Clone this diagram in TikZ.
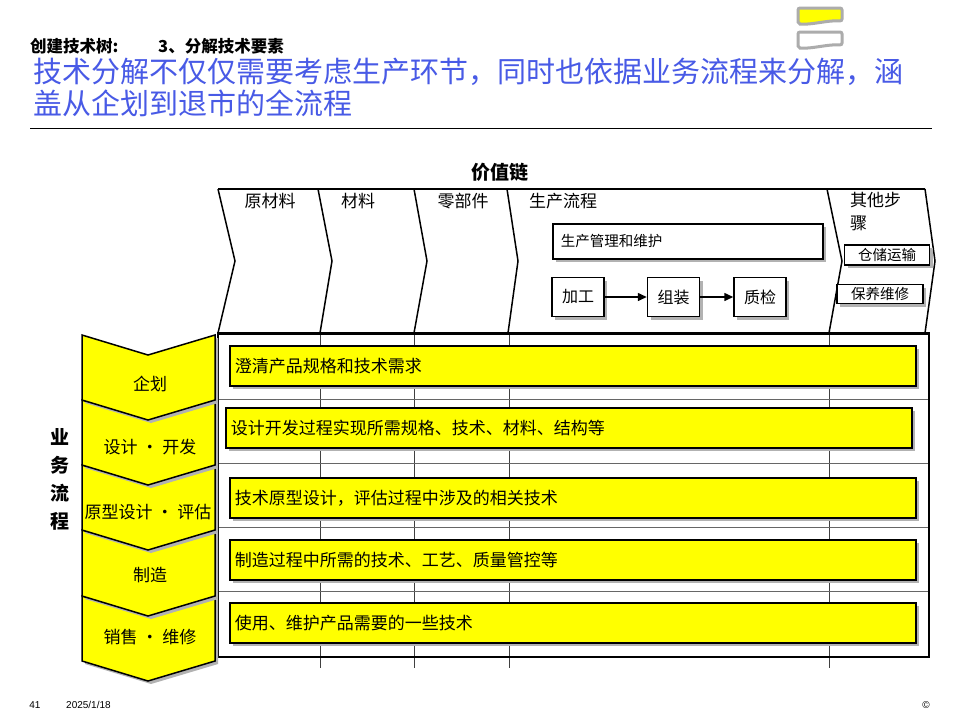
\documentclass[tikz,border=0pt]{standalone}
\usepackage{fontspec}
\setmainfont{Liberation Sans}
\newfontfamily\cjk{Noto Sans CJK SC}
\usepackage{xcolor}
\usetikzlibrary{arrows.meta,positioning,shadows}
\definecolor{titleblue}{RGB}{72,90,230}
\definecolor{markyellow}{RGB}{255,255,0}

\begin{document}
\begin{tikzpicture}[x=1pt, y=-1pt,
  cjktxt/.style={font=\cjk\fontsize{17}{20}\selectfont, inner sep=0pt},
  shade/.style={drop shadow={shadow xshift=3pt, shadow yshift=-3pt, fill=gray!60, opacity=1}},
  bar/.style={draw, line width=1.6pt, fill=markyellow, shade, anchor=north west, minimum height=40pt,
    text width=676pt, inner xsep=5pt, inner ysep=0pt, align=left, font=\cjk\fontsize{17}{20}\selectfont},
  pbox/.style={draw, line width=1.5pt, fill=white, shade, inner sep=0pt, font=\cjk\fontsize{16}{19}\selectfont},
  sbox/.style={draw, line width=1.5pt, fill=white, shade, inner sep=0pt, font=\cjk\fontsize{14.5}{17}\selectfont},
  chev/.style={draw, line width=1.5pt, fill=markyellow, line join=miter, shade},
  vchain/.style={line width=1.5pt, line join=miter},
  rowline/.style={gray!80!black, line width=1pt},
  colline/.style={black!75, line width=0.8pt},
  icon/.style={draw=gray!65, line width=3pt, rounded corners=2pt},
  arr/.style={-{Triangle[length=9pt, width=8pt]}, line width=1.5pt},
  foot/.style={font=\fontsize{10}{12}\selectfont, inner sep=0pt}
]
  \fill[white] (0,0) rectangle (960,720);
  \useasboundingbox (0,0) rectangle (960,720);

  \draw[icon, fill=markyellow] (798,8) -- (842,8) -- (842,21) .. controls (828,20) and (812,25) .. (798,24) -- cycle;
  \draw[icon, fill=white] (798,32) -- (842,32) -- (842,45) .. controls (828,44) and (812,49) .. (798,48) -- cycle;

  \node[cjktxt, anchor=west, font=\cjk\bfseries\fontsize{16.5}{19}\selectfont] (crumb) at (30,46) {创建技术树:};
  \node[cjktxt, anchor=west, font=\cjk\bfseries\fontsize{16.5}{19}\selectfont] (step) at (158,46) {3、分解技术要素};
  \node[cjktxt, anchor=north west, align=left, text=titleblue, font=\cjk\fontsize{29}{32}\selectfont] (title) at (33,58)
    {技术分解不仅仅需要考虑生产环节，同时也依据业务流程来分解，涵\\盖从企划到退市的全流程};
  \draw[line width=1pt] (30,128) -- (932,128);

  \node[cjktxt, font=\cjk\bfseries\fontsize{19}{22}\selectfont] (chain) at (500,172) {价值链};

  \draw[vchain] (218,189) -- (925,189);
  \draw[vchain] (218,189) -- (235,261) -- (218,333);
  \draw[vchain] (318,189) -- (332,261) -- (320,333);
  \draw[vchain] (414,189) -- (427,261) -- (414,333);
  \draw[vchain] (507,189) -- (518,261) -- (508,333);
  \draw[vchain] (827,189) -- (842,261) -- (829,333);
  \draw[vchain] (925,189) -- (935,261) -- (925,333);

  \node[cjktxt] (raw) at (270,201) {原材料};
  \node[cjktxt] (mat) at (358,201) {材料};
  \node[cjktxt] (part) at (463,201) {零部件};
  \node[cjktxt, anchor=west] (prod) at (529,201) {生产流程};
  \node[cjktxt, anchor=north west, align=left, font=\cjk\fontsize{17}{23}\selectfont] (other) at (850,192) {其他步\\骤};

  \node[pbox, anchor=north west, minimum width=270pt, minimum height=35pt, text width=254pt, inner xsep=8pt, align=left,
    font=\cjk\fontsize{14.5}{17}\selectfont] (mgmt) at (552,223) {生产管理和维护};
  \node[pbox, minimum width=52pt, minimum height=39pt] (work) at (578,297) {加工};
  \node[pbox, minimum width=52pt, minimum height=39pt, right=42pt of work] (build) {组装};
  \node[pbox, minimum width=52pt, minimum height=39pt, right=33pt of build] (check) {质检};
  \draw[arr] (work) -- (build);
  \draw[arr] (build) -- (check);
  \node[sbox, minimum width=85pt, minimum height=20pt] (store) at (887,255) {仓储运输};
  \node[sbox, minimum width=86pt, minimum height=19pt] (care) at (880,294) {保养维修};

  \draw[colline] (320,333) -- (320,668);
  \draw[colline] (414,333) -- (414,668);
  \draw[colline] (509,333) -- (509,668);
  \draw[colline] (829,333) -- (829,668);
  \draw[rowline] (218,399) -- (929,399);
  \draw[rowline] (218,463) -- (929,463);
  \draw[rowline] (218,527) -- (929,527);
  \draw[rowline] (218,591) -- (929,591);
  \draw[line width=2pt] (218,333) rectangle (929,657);
  \draw[line width=3pt] (217,333) -- (930,333);

  \node[bar] (need) at (229,345) {澄清产品规格和技术需求};
  \node[bar] (design) at (225,407) {设计开发过程实现所需规格、技术、材料、结构等};
  \node[bar] (proto) at (229,477) {技术原型设计，评估过程中涉及的相关技术};
  \node[bar] (craft) at (229,539) {制造过程中所需的技术、工艺、质量管控等};
  \node[bar] (usage) at (229,602) {使用、维护产品需要的一些技术};

  \draw[chev] (82,596) -- (148,616) -- (215,596) -- (215,661) -- (148,681) -- (82,661) -- cycle;
  \draw[chev] (82,530) -- (148,550) -- (215,530) -- (215,596) -- (148,616) -- (82,596) -- cycle;
  \draw[chev] (82,465) -- (148,485) -- (215,465) -- (215,530) -- (148,550) -- (82,530) -- cycle;
  \draw[chev] (82,400) -- (148,420) -- (215,400) -- (215,465) -- (148,485) -- (82,465) -- cycle;
  \draw[chev] (82,335) -- (148,355) -- (215,335) -- (215,400) -- (148,420) -- (82,400) -- cycle;

  \node[cjktxt] (plan) at (150,384) {企划};
  \node[cjktxt] (dev) at (150,447) {设计 · 开发};
  \node[cjktxt] (eval) at (148,512) {原型设计 · 评估};
  \node[cjktxt] (make) at (150,575) {制造};
  \node[cjktxt] (sale) at (150,637) {销售 · 维修};

  \node[cjktxt, align=center, font=\cjk\bfseries\fontsize{19}{28}\selectfont] (flow) at (60,479) {业\\务\\流\\程};

  \node[foot] (page) at (35,705) {41};
  \node[foot, anchor=west] (date) at (66,705) {2025/1/18};
  \node[foot] (copy) at (926,705) {©};
\end{tikzpicture}
\end{document}
